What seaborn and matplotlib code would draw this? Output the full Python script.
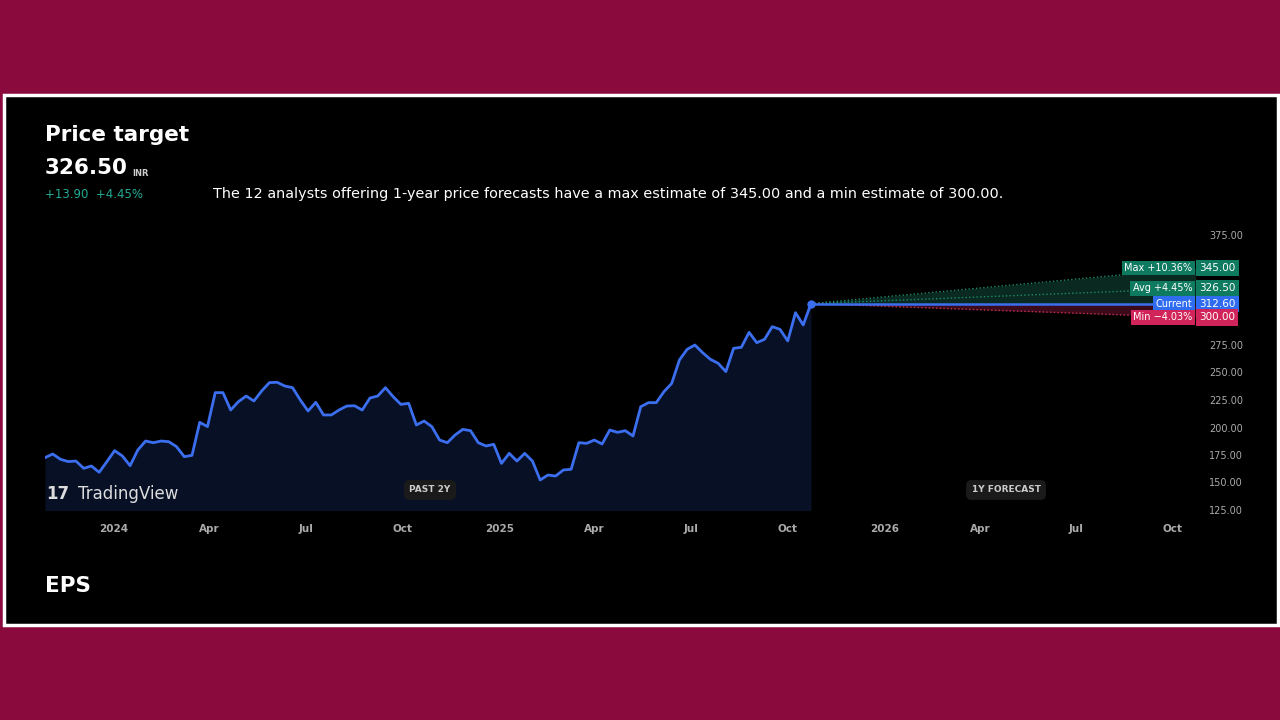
import numpy as np
import pandas as pd
import matplotlib
matplotlib.use("Agg")
import matplotlib.pyplot as plt
import seaborn as sns
from matplotlib.patches import Rectangle

prices = [172.6,175.9,171.1,169.0,169.5,162.9,165.0,159.3,169.0,179.0,174.1,165.3,179.6,187.7,186.2,187.7,187.1,182.6,173.5,174.7,
          204.7,200.8,231.7,231.7,215.9,223.5,228.6,224.1,233.2,240.8,241.1,237.7,236.2,225.0,215.0,222.9,211.4,211.4,215.9,219.5,
          219.8,215.9,226.8,228.6,236.2,228.0,221.0,222.0,202.3,205.9,200.8,188.6,186.2,193.2,198.3,197.1,186.2,183.2,184.7,167.4,
          176.5,169.5,176.5,169.5,152.3,156.8,155.9,161.4,162.0,186.2,185.6,188.6,185.0,197.7,195.6,197.1,192.3,218.9,222.6,222.6,
          232.6,240.1,261.4,271.1,275.0,268.0,262.0,258.4,250.8,272.0,272.9,286.5,277.1,280.2,291.7,289.2,278.7,304.4,293.2,312.6]
current = 312.6
targets = {"Max": 345.00, "Avg": 326.50, "Min": 300.00}
target_pct = {"Max": "+10.36%", "Avg": "+4.45%", "Min": "\u22124.03%"}
yticks = [125, 150, 175, 200, 225, 250, 275, 300, 325, 350, 375]
hidden_yticks = [300, 325, 350]
xtick_dates = ["2024-01-01","2024-04-01","2024-07-01","2024-10-01","2025-01-01","2025-04-01",
               "2025-07-01","2025-10-01","2026-01-01","2026-04-01","2026-07-01","2026-10-01"]
xtick_labels = ["2024","Apr","Jul","Oct","2025","Apr","Jul","Oct","2026","Apr","Jul","Oct"]

dates = pd.date_range("2023-10-28", "2025-10-23", periods=len(prices))
df = pd.DataFrame({"date": dates, "price": prices})
end_date = pd.Timestamp("2025-10-23")
fc_date = pd.Timestamp("2026-10-23")

sns.set_style("dark")
fig = plt.figure(figsize=(12.8, 7.2), dpi=100, facecolor="#8B0A3E")
W, H = 1280, 720
panel = Rectangle((4/W, 1-625/H), 1274/W, 530/H, transform=fig.transFigure,
                  facecolor="black", edgecolor="white", linewidth=2.5, zorder=-5)
fig.patches.append(panel)

ax = fig.add_axes([45/W, 1-510/H, (1195-45)/W, 275/H])
ax.set_zorder(3)
ax.patch.set_visible(False)
sns.lineplot(data=df, x="date", y="price", ax=ax, color="#3b6ff0", linewidth=2, zorder=4)
ax.fill_between(df["date"], df["price"], 120, color="#0b1530", alpha=0.8, linewidth=0, zorder=2)
ax.plot([end_date], [current], "o", color="#3b6ff0", markersize=5, zorder=5)

fx = [end_date, fc_date]
ax.fill_between(fx, [current, current], [current, targets["Max"]], color="#0f3d30", alpha=0.7, linewidth=0)
ax.fill_between(fx, [current, targets["Min"]], [current, current], color="#4a0f22", alpha=0.8, linewidth=0)
ax.plot(fx, [current, targets["Max"]], ":", color="#1e8a6a", lw=1)
ax.plot(fx, [current, targets["Avg"]], ":", color="#1e8a6a", lw=1)
ax.plot(fx, [current, targets["Min"]], ":", color="#c0304f", lw=1)
ax.plot(fx, [current, current], "-", color="#3b6ff0", lw=1.8)

ax.set_xlim(pd.Timestamp("2023-10-28"), pd.Timestamp("2026-10-22"))
ax.set_ylim(125, 375)
ax.set_xticks(pd.to_datetime(xtick_dates))
ax.set_xticklabels(xtick_labels)
ax.set_yticks(yticks)
ax.tick_params(axis="x", colors="#aaaaaa", labelsize=7.5, length=0, pad=10)
ax.tick_params(axis="y", colors="#aaaaaa", labelsize=7, length=0, pad=10)
ax.yaxis.tick_right()
ax.set_yticklabels(["" if v in hidden_yticks else f"{v:.2f}" for v in yticks])
for lbl in ax.get_xticklabels():
    lbl.set_fontweight("bold")
ax.set_xlabel(""); ax.set_ylabel("")
ax.grid(False)
for s in ax.spines.values():
    s.set_visible(False)

def tag(y, left, right, color):
    ax.annotate(left, xy=(1.0, y), xycoords=("axes fraction", "data"), xytext=(-2, 0),
                textcoords="offset points", ha="right", va="center", fontsize=7, color="white",
                bbox=dict(boxstyle="square,pad=0.25", fc=color, ec="none"), annotation_clip=False)
    ax.annotate(right, xy=(1.0, y), xycoords=("axes fraction", "data"), xytext=(3, 0),
                textcoords="offset points", ha="left", va="center", fontsize=7.5, color="white",
                bbox=dict(boxstyle="square,pad=0.3", fc=color, ec="none"), annotation_clip=False)
green = "#0e7a5f"
tag(targets["Max"], f"Max {target_pct['Max']}", f"{targets['Max']:.2f}", green)
tag(targets["Avg"], f"Avg {target_pct['Avg']}", f"{targets['Avg']:.2f}", green)
tag(current, "Current", f"{current:.2f}", "#2f6cf0")
tag(targets["Min"], f"Min {target_pct['Min']}", f"{targets['Min']:.2f}", "#d0245a")

for xp, txt in [(430, "PAST 2Y"), (1006, "1Y FORECAST")]:
    fig.text(xp/W, 1-490/H, txt, ha="center", va="center", fontsize=6.5, fontweight="bold", color="#cccccc",
             bbox=dict(boxstyle="round,pad=0.6", fc="#1a1a1a", ec="none"), zorder=6)
fig.text(46/W, 1-494/H, "17", ha="left", va="center", fontsize=12, color="#dddddd", fontweight="heavy", zorder=6)
fig.text(78/W, 1-494/H, "TradingView", ha="left", va="center", fontsize=12, color="#dddddd", zorder=6)

fig.text(45/W, 1-135/H, "Price target", fontsize=15.5, color="white", fontweight="bold", va="center")
fig.text(45/W, 1-168/H, "326.50", fontsize=15.5, color="white", fontweight="bold", va="center")
fig.text(132/W, 1-173/H, "INR", fontsize=6, color="#cccccc", va="center", fontweight="bold")
fig.text(45/W, 1-195/H, "+13.90  +4.45%", fontsize=8.5, color="#22ab94", va="center")
fig.text(213/W, 1-194/H, "The 12 analysts offering 1-year price forecasts have a max estimate of 345.00 and a min estimate of 300.00.",
         fontsize=10.4, color="white", va="center")
fig.text(45/W, 1-586/H, "EPS", fontsize=15.5, color="white", fontweight="bold", va="center")

fig.savefig("out.png", dpi=100, facecolor=fig.get_facecolor())
